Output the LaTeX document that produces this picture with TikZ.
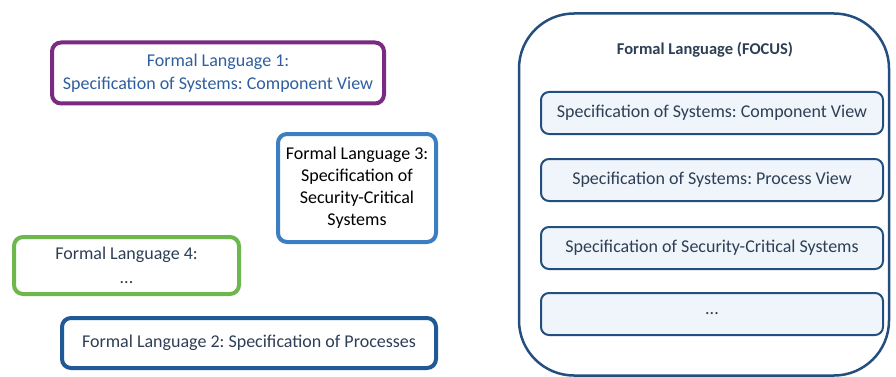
\documentclass[tikz,border=0pt]{standalone}
\usepackage{fontspec}
\setmainfont{Carlito}
\usepackage{xcolor}
\usetikzlibrary{positioning,calc}
\frenchspacing

\definecolor{flpurple}{HTML}{7A2A80}
\definecolor{flblue}{HTML}{3D7EC2}
\definecolor{flgreen}{HTML}{6DB84C}
\definecolor{fldark}{HTML}{1F5A96}
\definecolor{focusline}{HTML}{234E7E}
\definecolor{focusfill}{HTML}{EFF5FB}
\definecolor{textblue}{HTML}{2F5F9E}
\definecolor{textgray}{HTML}{2E3F55}

\begin{document}
\begin{tikzpicture}[x=1pt, y=-1pt,
  every node/.style={font=\fontsize{18}{23}\selectfont, align=center},
  langbox/.style={draw, rectangle, rounded corners=9pt, line width=4pt, fill=white},
  partbox/.style={draw=focusline, rectangle, rounded corners=8pt, line width=2pt, fill=focusfill,
    minimum width=342pt, minimum height=42pt, text=textgray}]
\useasboundingbox (0,0) rectangle (896,377);

% Formal languages on the left
\node[langbox, draw=flpurple, minimum width=332pt, minimum height=61pt, text=textblue] (lang1) at (218,73)
  {Formal Language 1:\\Specification of Systems: Component View};
\node[langbox, draw=flblue, minimum width=158pt, minimum height=108pt, text=black, font=\fontsize{18}{22}\selectfont] (lang3) at (357,188)
  {Formal Language 3:\\Specification of\\Security-Critical\\Systems};
\node[langbox, draw=flgreen, minimum width=225pt, minimum height=57pt, text=textgray, font=\fontsize{18}{24}\selectfont] (lang4) at (126.5,265.5)
  {Formal Language 4:\\...};
\node[langbox, draw=fldark, minimum width=374pt, minimum height=50pt, text=textgray] (lang2) at (249,343)
  {Formal Language 2: Specification of Processes};

% FOCUS
\node[draw=focusline, rectangle, rounded corners=55pt, line width=2.5pt, minimum width=370pt, minimum height=362pt] (focus) at (704,194.5) {};
\node[font=\fontsize{16.5}{20}\selectfont\bfseries, text=textgray] (title) at (705,50) {Formal Language (FOCUS)};

% Parts of FOCUS
\node[partbox] (comp) at (712,113) {Specification of Systems: Component View};
\node[partbox] (proc) at (712,180) {Specification of Systems: Process View};
\node[partbox] (sec) at (712,248) {Specification of Security-Critical Systems};
\node[partbox] (more) at (712,314) {...};

\end{tikzpicture}
\end{document}
